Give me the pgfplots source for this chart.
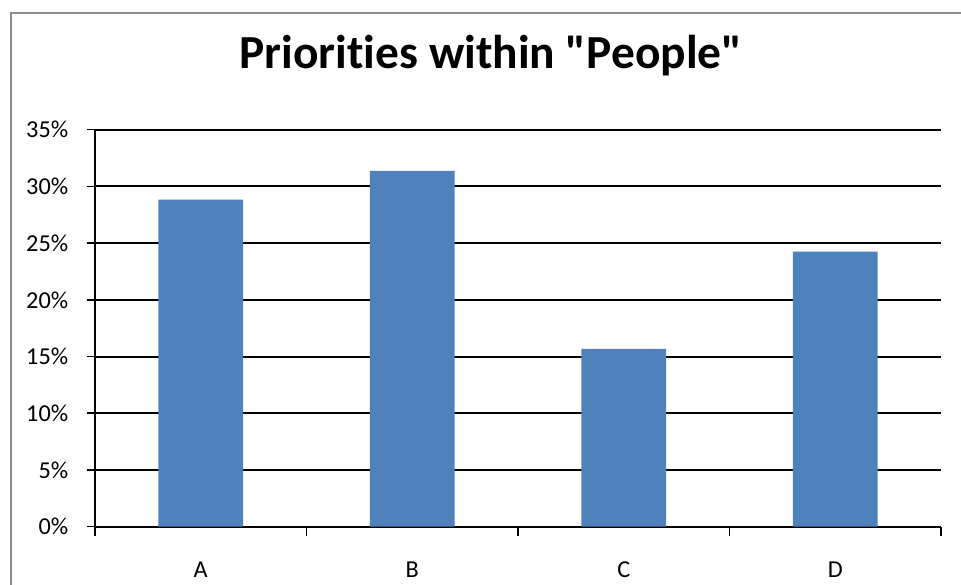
\documentclass[border=0pt]{standalone}
\usepackage{fontspec}
\setmainfont{Carlito}[Ligatures={TeXOff,NoCommon}]
\usepackage{pgfplots}
\pgfplotsset{compat=1.18}
\definecolor{barblue}{HTML}{4F81BD}
\definecolor{framegray}{HTML}{8C8C8C}

\begin{document}
\begin{tikzpicture}[x=0.75pt, y=0.75pt]
  % canvas and chart frame
  \useasboundingbox (0,0) rectangle (961,585);
  \clip (0,0) rectangle (961,585);
  \fill[white] (0,0) rectangle (961,585);
  \draw[framegray, line width=1.5pt] (11,-20) -- (11,571.5) -- (1000,571.5);

  % title (kern keeps "t" and "i" as separate glyphs)
  \node[anchor=base, font=\fontsize{35.6}{40}\selectfont\bfseries] at (491,516.7)
    {Priorit\kern0pt ies within "People"};

  \begin{axis}[
    at={(71.25pt,43.725pt)}, anchor=south west,
    width=634.5pt, height=297.75pt, scale only axis,
    xmin=-0.5, xmax=3.5, ymin=0, ymax=35,
    axis lines*=left,
    axis line style={black, line width=1.5pt},
    xtick={0,1,2,3}, xticklabels={A,B,C,D},
    minor xtick={-0.5,0.5,1.5,2.5,3.5},
    major x tick style={draw=none},
    minor x tick style={black, line width=1.2pt},
    minor tick length=6.75pt,
    ytick={0,5,...,35},
    yticklabel={\pgfmathprintnumber{\tick}\%},
    y tick style={black, line width=1.2pt},
    major tick length=6.3pt,
    tick align=outside,
    ymajorgrids,
    major grid style={black, line width=1.5pt},
    /pgf/number format/assume math mode=true,
    tick label style={font=\fontsize{18.2}{22}\selectfont},
    yticklabel style={xshift=-10.3pt},
    xticklabel style={yshift=-16.5pt},
    ybar, bar width=63.45pt,
  ]
    \addplot[fill=barblue, draw=none] coordinates {
      (0,28.83) (1,31.38) (2,15.68) (3,24.24)
    };
  \end{axis}
\end{tikzpicture}
\end{document}
